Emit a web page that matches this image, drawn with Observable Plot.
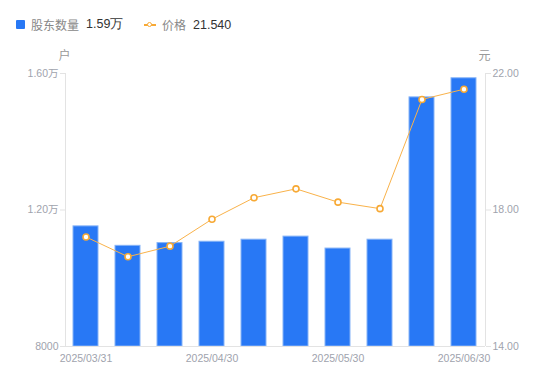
<!DOCTYPE html>
<html>
<head>
<meta charset="utf-8">
<script src="https://cdn.jsdelivr.net/npm/d3@7"></script>
<script src="https://cdn.jsdelivr.net/npm/@observablehq/plot@0.6"></script>
<style>
  html, body { margin: 0; padding: 0; background: #fff; }
  body { width: 550px; height: 381px; overflow: hidden; font-family: "Noto Sans CJK SC", "Noto Sans", sans-serif; }
  #legend { position: relative; height: 45px; font-size: 12px; }
  .lg { position: absolute; top: 16px; display: flex; align-items: center; white-space: nowrap; }
  .sw { display: inline-block; width: 9px; height: 9px; background: #2878F5; border-radius: 1px; margin-right: 6px; }
  .ln { display: inline-block; position: relative; width: 12px; height: 9px; margin-right: 6px; }
  .ln::before { content: ""; position: absolute; left: 0; right: 0; top: 4px; height: 1.5px; background: #F7A935; }
  .ln::after { content: ""; position: absolute; left: 3px; top: 1.5px; width: 3px; height: 3px; border: 1.5px solid #F7A935; border-radius: 50%; background: #fff; }
  .name { color: #888; margin-right: 7px; }
  .val { color: #333; font-family: "Liberation Sans", Arial, sans-serif; font-size: 12.5px; }
</style>
</head>
<body>
<div id="legend">
  <div class="lg" style="left:16px"><span class="sw"></span><span class="name">股东数量</span><span class="val">1.59万</span></div>
  <div class="lg" style="left:144px"><span class="ln"></span><span class="name">价格</span><span class="val">21.540</span></div>
</div>
<div id="chart"></div>
<script>
const dates = ["2025/03/31","2025/04/10","2025/04/18","2025/04/30","2025/05/09","2025/05/20","2025/05/30","2025/06/10","2025/06/20","2025/06/30"];
const holders = [11520, 10950, 11030, 11070, 11130, 11220, 10870, 11130, 15300, 15860];
const prices = [17.21, 16.63, 16.94, 17.73, 18.36, 18.62, 18.23, 18.04, 21.24, 21.54];
const xTickLabels = ["2025/03/31","2025/04/30","2025/05/30","2025/06/30"];
const leftTicks = [8000, 12000, 16000];
const rightTicks = [14, 18, 22];

// map price domain [14,22] onto holder domain [8000,16000]
const p2y = p => 8000 + (p - 14) * 1000;
const y2p = v => (v - 8000) / 1000 + 14;

const data = dates.map((d, i) => ({date: d, holders: holders[i], price: prices[i], py: p2y(prices[i])}));
const fmtLeft = v => v >= 10000 ? (v / 10000).toFixed(2) + "万" : String(v);

const chart = Plot.plot({
  width: 550,
  height: 336,
  marginTop: 28,
  marginBottom: 35,
  marginLeft: 65,
  marginRight: 65,
  style: {fontFamily: "'Liberation Sans', Arial, 'Noto Sans CJK SC', sans-serif", fontSize: "10.5px", color: "#a0a3ad", background: "#fff"},
  x: {type: "band", domain: dates, padding: 0.4, paddingOuter: 0.2, axis: null},
  y: {domain: [8000, 16000], axis: null},
  marks: [
    Plot.barY(data, {x: "date", y1: 8000, y2: "holders", fill: "#2878F5", stroke: "#86B3F7", strokeWidth: 1}),
    Plot.axisY({anchor: "left", ticks: leftTicks, tickFormat: fmtLeft, tickSize: 5, tickPadding: 2, stroke: "#e3e3e3", fill: "#a0a3ad", label: null}),
    Plot.axisY({anchor: "right", ticks: rightTicks.map(p2y), tickFormat: v => y2p(v).toFixed(2), tickSize: 5, tickPadding: 2, stroke: "#e3e3e3", fill: "#a0a3ad", label: null}),
    Plot.ruleY([8000], {stroke: "#e3e3e3", strokeWidth: 1}),
    Plot.axisX({ticks: xTickLabels, tickSize: 0, tickPadding: 8, fill: "#a0a3ad", label: null}),
    Plot.line(data, {x: "date", y: "py", stroke: "#F9B24A", strokeWidth: 1}),
    Plot.dot(data, {x: "date", y: "py", r: 3, fill: "#fff", stroke: "#F7A935", strokeWidth: 1.6}),
    Plot.text(["户"], {frameAnchor: "top-left", dx: -7, dy: -22, fill: "#999", fontSize: 12}),
    Plot.text(["元"], {frameAnchor: "top-right", dx: 5, dy: -22, fill: "#999", fontSize: 12})
  ]
});
document.getElementById("chart").appendChild(chart);

// axis lines on left and right edges
const svg = d3.select(chart);
const W = 550, H = 336;
svg.insert("line", ":first-child").attr("x1", 65.5).attr("x2", 65.5).attr("y1", 28).attr("y2", H - 35).attr("stroke", "#e3e3e3");
svg.insert("line", ":first-child").attr("x1", W - 65 + 0.5).attr("x2", W - 65 + 0.5).attr("y1", 28).attr("y2", H - 35).attr("stroke", "#e3e3e3");
</script>
</body>
</html>
